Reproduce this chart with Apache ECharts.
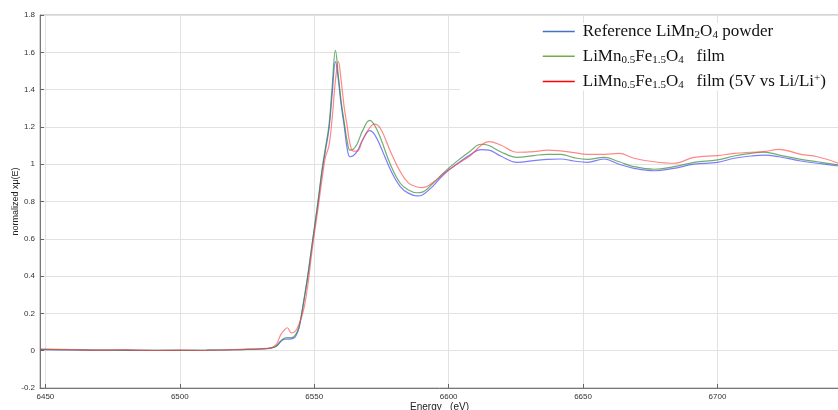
<!DOCTYPE html>
<html>
<head>
<meta charset="utf-8">
<script src="https://cdn.jsdelivr.net/npm/echarts@6/dist/echarts.min.js"></script>
<style>
html,body{margin:0;padding:0;background:#fff;}
#c{width:838px;height:410px;}
</style>
</head>
<body>
<div id="c"></div>
<script>
var energy = [6448, 6460, 6470, 6480, 6490, 6500, 6510, 6520, 6525, 6530,
  6534, 6536, 6537.5, 6539, 6540, 6541.5, 6543, 6544.3, 6545.5, 6546.5,
  6547.6, 6549.5, 6551.3, 6553, 6554.2, 6555.5, 6556.7, 6557.9, 6559, 6560,
  6561.2, 6562.3, 6563.3, 6564.5, 6566, 6568, 6570.6, 6572.4, 6574.7, 6578.4,
  6582, 6585, 6588.3, 6590.2, 6594, 6598.2, 6603, 6608, 6612, 6615,
  6619.3, 6625.5, 6631.7, 6636.7, 6641.7, 6646.6, 6651.6, 6657.8, 6663.4, 6668.9,
  6676.4, 6683.8, 6691.3, 6700, 6706.2, 6712.4, 6717.3, 6722.9, 6731, 6737.2, 6745];

var refPowder = [0.006, 0.004, 0.003, 0.002, 0.002, 0.002, 0.003, 0.005, 0.007, 0.009,
  0.014, 0.025, 0.048, 0.062, 0.062, 0.063, 0.075, 0.12, 0.21, 0.30,
  0.40, 0.60, 0.78, 0.97, 1.076, 1.19, 1.38, 1.55, 1.45, 1.32,
  1.20, 1.08, 1.04, 1.045, 1.07, 1.13, 1.18, 1.16, 1.094, 0.969,
  0.88, 0.845, 0.83, 0.835, 0.88, 0.945, 1.00, 1.05, 1.078, 1.075,
  1.044, 1.01, 1.019, 1.026, 1.028, 1.017, 1.01, 1.028, 1.00, 0.978,
  0.965, 0.978, 1.00, 1.01, 1.032, 1.044, 1.049, 1.04, 1.017, 1.005, 0.99];

var filmLMFO = [0.007, 0.005, 0.003, 0.003, 0.002, 0.002, 0.003, 0.005, 0.007, 0.010,
  0.015, 0.027, 0.052, 0.068, 0.070, 0.070, 0.085, 0.125, 0.215, 0.30,
  0.40, 0.60, 0.79, 0.98, 1.09, 1.21, 1.42, 1.61, 1.47, 1.34,
  1.22, 1.12, 1.075, 1.08, 1.11, 1.18, 1.235, 1.21, 1.139, 0.996,
  0.898, 0.862, 0.847, 0.85, 0.895, 0.955, 1.015, 1.07, 1.107, 1.10,
  1.067, 1.037, 1.046, 1.053, 1.053, 1.035, 1.026, 1.037, 1.013, 0.987,
  0.973, 0.987, 1.01, 1.023, 1.044, 1.058, 1.065, 1.049, 1.026, 1.013, 0.996];

var film5V = [0.009, 0.006, 0.002, 0.006, 0.001, 0.003, 0.001, 0.006, 0.008, 0.010,
  0.016, 0.035, 0.085, 0.112, 0.123, 0.095, 0.105, 0.14, 0.19, 0.25,
  0.35, 0.57, 0.75, 0.93, 1.04, 1.10, 1.25, 1.45, 1.55, 1.45,
  1.30, 1.20, 1.11, 1.07, 1.07, 1.13, 1.195, 1.215, 1.19, 1.067,
  0.96, 0.90, 0.878, 0.874, 0.90, 0.951, 1.00, 1.045, 1.10, 1.121,
  1.103, 1.064, 1.067, 1.076, 1.071, 1.062, 1.053, 1.053, 1.058, 1.032,
  1.013, 1.005, 1.037, 1.046, 1.058, 1.064, 1.067, 1.08, 1.053, 1.04, 1.005];

var xTicks = [6450, 6500, 6550, 6600, 6650, 6700];
var seriesNames = ['Reference LiMn2O4 powder', 'LiMn0.5Fe1.5O4 film', 'LiMn0.5Fe1.5O4 film (5V vs Li/Li+)'];
var legendRich = {
  'Reference LiMn2O4 powder': '{t|Reference LiMn}{s|2}{t|O}{s|4}{t| powder}',
  'LiMn0.5Fe1.5O4 film': '{t|LiMn}{s|0.5}{t|Fe}{s|1.5}{t|O}{s|4}{t|   film}',
  'LiMn0.5Fe1.5O4 film (5V vs Li/Li+)': '{t|LiMn}{s|0.5}{t|Fe}{s|1.5}{t|O}{s|4}{t|   film (5V vs Li/Li}{p|+}{t|)}'
};

function pairs(xs, ys) {
  var out = [];
  for (var i = 0; i < xs.length; i++) out.push([xs[i], ys[i]]);
  return out;
}

var chart = echarts.init(document.getElementById('c'), null, {renderer: 'canvas'});
var serifFont = '"Liberation Serif", "Times New Roman", serif';
var sansFont = '"Liberation Sans", Arial, sans-serif';

chart.setOption({
  animation: false,
  backgroundColor: '#fff',
  grid: {left: 40, right: -1, top: 15, bottom: 22, show: true, borderColor: '#a8a8a8', borderWidth: 1,
         containLabel: false, outerBoundsMode: 'none'},
  legend: {
    orient: 'vertical',
    left: 460,
    top: 23,
    padding: [0, 20, 0, 82],
    backgroundColor: '#fff',
    itemWidth: 32,
    itemHeight: 18,
    itemGap: 7.3,
    data: [
      {name: seriesNames[0], lineStyle: {color: '#4472c4', width: 1.5}, itemStyle: {opacity: 0}},
      {name: seriesNames[1], lineStyle: {color: '#70ad47', width: 1.5}, itemStyle: {opacity: 0}},
      {name: seriesNames[2], lineStyle: {color: '#ff0000', width: 1.5}, itemStyle: {opacity: 0}}
    ],
    formatter: function (n) { return legendRich[n]; },
    textStyle: {
      padding: [0, 0, 0, 3],
      rich: {
        t: {fontFamily: serifFont, fontSize: 17, lineHeight: 18, color: '#111'},
        s: {fontFamily: serifFont, fontSize: 11, lineHeight: 11, verticalAlign: 'bottom', color: '#111'},
        p: {fontFamily: serifFont, fontSize: 11, lineHeight: 11, verticalAlign: 'top', color: '#111'}
      }
    }
  },
  xAxis: {
    type: 'value',
    min: 6448,
    max: 6745.2,
    name: 'Energy   (eV)',
    nameLocation: 'middle',
    nameGap: 14,
    nameMoveOverlap: false,
    nameTextStyle: {fontFamily: sansFont, fontSize: 10, color: '#222', verticalAlign: 'top'},
    axisLine: {show: true, onZero: false, lineStyle: {color: '#777', width: 1}},
    axisTick: {show: true, inside: true, length: 4, customValues: xTicks, lineStyle: {color: '#666'}},
    axisLabel: {customValues: xTicks, fontFamily: sansFont, fontSize: 8, color: '#333', margin: 5,
                formatter: function (v) { return String(v); }},
    splitLine: {show: true, lineStyle: {color: '#e2e2e2', width: 1}}
  },
  yAxis: {
    type: 'value',
    min: -0.2,
    max: 1.8,
    interval: 0.2,
    name: 'normalized xμ(E)',
    nameLocation: 'middle',
    nameRotate: 90,
    nameGap: 20,
    nameMoveOverlap: false,
    nameTextStyle: {fontFamily: sansFont, fontSize: 9, color: '#222'},
    axisLine: {show: true, onZero: false, lineStyle: {color: '#777', width: 1}},
    axisTick: {show: true, inside: true, length: 4, lineStyle: {color: '#666'}},
    axisLabel: {fontFamily: sansFont, fontSize: 8, color: '#333', margin: 5},
    splitLine: {show: true, lineStyle: {color: '#e2e2e2', width: 1}}
  },
  series: [
    {name: seriesNames[0], type: 'line', symbol: 'none', smooth: 0.4,
     data: pairs(energy, refPowder), lineStyle: {color: 'rgba(70,70,255,0.7)', width: 1.2}, itemStyle: {color: '#4472c4'}},
    {name: seriesNames[1], type: 'line', symbol: 'none', smooth: 0.4,
     data: pairs(energy, filmLMFO), lineStyle: {color: 'rgba(50,140,50,0.7)', width: 1.2}, itemStyle: {color: '#70ad47'}},
    {name: seriesNames[2], type: 'line', symbol: 'none', smooth: 0.4,
     data: pairs(energy, film5V), lineStyle: {color: 'rgba(255,70,70,0.65)', width: 1.2}, itemStyle: {color: '#ff0000'}}
  ]
});
</script>
</body>
</html>
